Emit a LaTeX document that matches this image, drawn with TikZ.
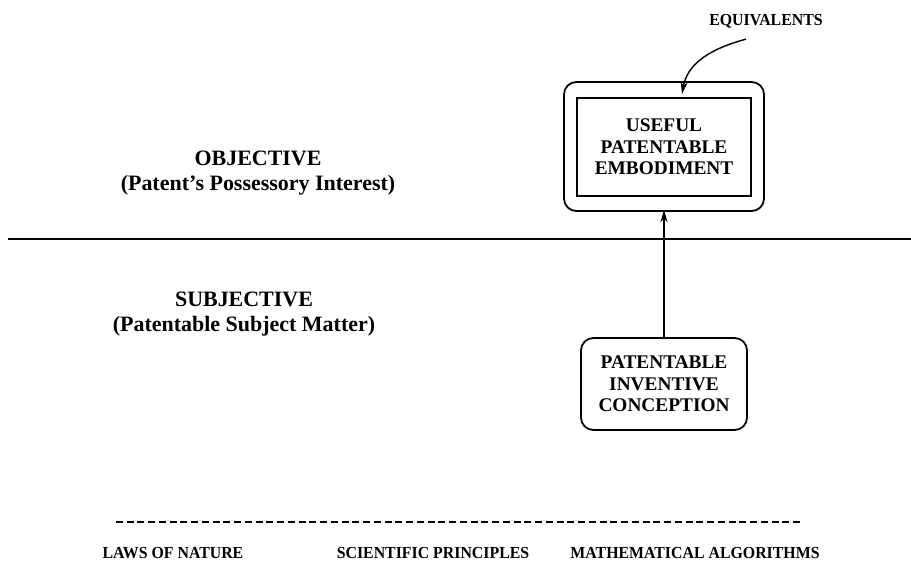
\documentclass[tikz,border=0pt]{standalone}
\usepackage{fontspec}
\setmainfont{Liberation Serif}
\newfontfamily\narrowserif{Liberation Serif}[FakeStretch=0.94]
\usetikzlibrary{arrows.meta}
\tikzstyle{every node}=[font=\bfseries]
\tikzstyle{side text}=[align=center,font=\bfseries\fontsize{12.5}{13.8}\selectfont]
\tikzstyle{box text}=[align=center,font=\bfseries\fontsize{11}{12.2}\selectfont]
\tikzstyle{small text}=[font=\narrowserif\bfseries\fontsize{9.6}{11}\selectfont]
\tikzstyle{roundbox}=[draw,line width=1pt,rounded corners=7pt,inner sep=0pt]
\tikzstyle{flow}=[line width=0.8pt,-{Stealth[length=7pt,width=4pt]}]

\begin{document}
\begin{tikzpicture}[x=0.02cm,y=-0.02cm]
	\useasboundingbox (0,0) rectangle (911,564);

	% upper half
	\node(outer)[roundbox,minimum width=4cm,minimum height=2.58cm] at (664,146.5) {};
	\node(embod)[draw,line width=1pt,box text,minimum width=3.48cm,minimum height=1.96cm] at (664,147)
		{USEFUL\\PATENTABLE\\EMBODIMENT};
	\node(equiv)[small text] at (766,21) {EQUIVALENTS};
	\coordinate (tip) at (682,94);
	\node(obj)[side text] at (258,173) {OBJECTIVE\\(Patent's Possessory Interest)};

	\draw[line width=1.6pt] (8,239) -- (911,239);

	% lower half
	\node(subj)[side text] at (244,314) {SUBJECTIVE\\(Patentable Subject Matter)};
	\node(concept)[roundbox,box text,minimum width=3.32cm,minimum height=1.84cm] at (664,384)
		{PATENTABLE\\INVENTIVE\\CONCEPTION};

	\path[flow] (concept) edge ([yshift=-0.26cm]embod.south)
	            ([xshift=-0.4cm,yshift=-0.1cm]equiv.south) edge[out=195,in=80] (tip);

	\draw[line width=0.8pt,dash pattern=on 0.14cm off 0.075cm] (116,522) -- (802,522);
	\node(laws)[small text] at (173,553) {LAWS OF NATURE};
	\node(sci)[small text] at (433,553) {SCIENTIFIC PRINCIPLES};
	\node(math)[small text] at (695,553) {MATHEMATICAL ALGORITHMS};
\end{tikzpicture}
\end{document}
